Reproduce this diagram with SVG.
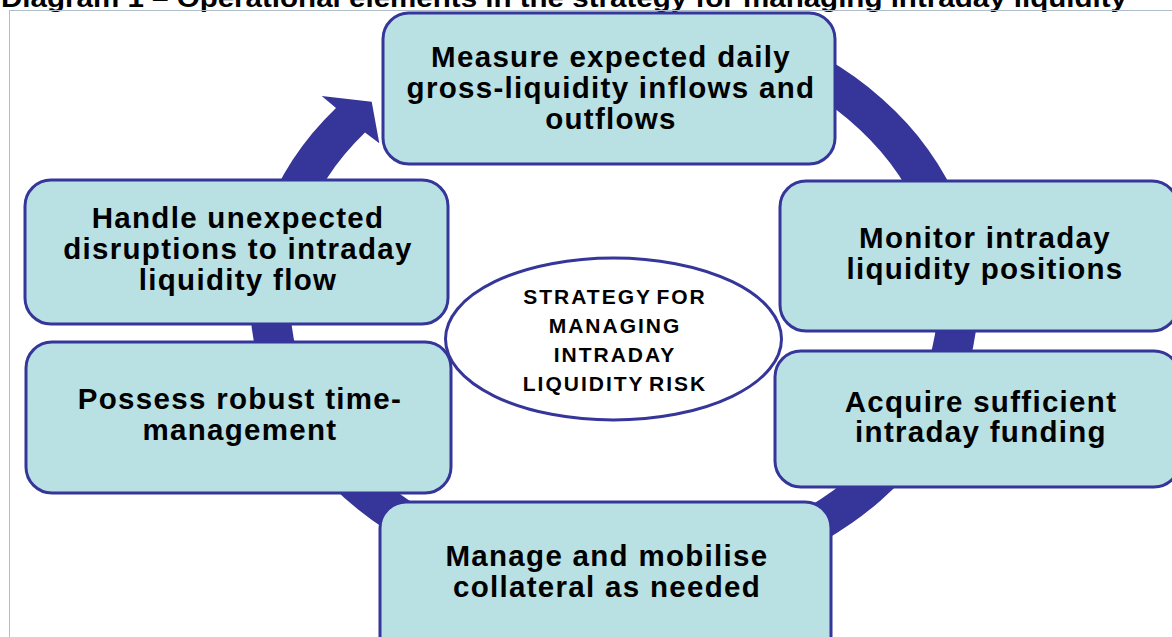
<svg xmlns="http://www.w3.org/2000/svg" width="1172" height="637" viewBox="0 0 1172 637">
  <style>
    .box { fill: #b9e0e3; stroke: #35359a; stroke-width: 3; }
    .lbl { font-family: "Liberation Sans", Arial, sans-serif; font-weight: bold; font-size: 29.5px; letter-spacing: 1.3px; fill: #000; text-anchor: middle; }
    .ctr { font-family: "Liberation Sans", Arial, sans-serif; font-weight: bold; font-size: 21px; letter-spacing: 2px; word-spacing: -3px; fill: #000; text-anchor: middle; }
    .title { font-family: "Liberation Sans", Arial, sans-serif; font-weight: bold; font-size: 25px; fill: #000; }
  </style>
  <rect width="1172" height="637" fill="#ffffff"/>
  <text class="title" x="1" y="6.5" textLength="1126" lengthAdjust="spacingAndGlyphs">Diagram 1 – Operational elements in the strategy for managing intraday liquidity</text>
  <rect x="9.5" y="10.5" width="1180" height="640" fill="none" stroke="#aebfcb" stroke-width="1"/>

  <g id="connectors">
    <path d="M 720 15.8 A 364 296 0 1 1 336 107.9 L 321.7 96 L 371.7 101.7 L 379.3 143.3 L 365 132.6 A 324 260 0 1 0 720 53.3 Z" fill="#35359a"/>
  </g>

  <g id="node-measure">
    <rect class="box" x="383" y="13" width="452" height="151" rx="26" ry="26"/>
    <text class="lbl" x="611" y="67">Measure expected daily</text>
    <text class="lbl" x="611" y="98">gross-liquidity inflows and</text>
    <text class="lbl" x="611" y="129">outflows</text>
  </g>

  <g id="node-monitor">
    <rect class="box" x="780" y="181" width="398" height="150" rx="26" ry="26"/>
    <text class="lbl" x="985" y="248">Monitor intraday</text>
    <text class="lbl" x="985" y="279">liquidity positions</text>
  </g>

  <g id="node-acquire">
    <rect class="box" x="775" y="351" width="405" height="136" rx="26" ry="26"/>
    <text class="lbl" x="981" y="412">Acquire sufficient</text>
    <text class="lbl" x="981" y="442">intraday funding</text>
  </g>

  <g id="node-manage">
    <rect class="box" x="380" y="502" width="451" height="160" rx="26" ry="26"/>
    <text class="lbl" x="607" y="566">Manage and mobilise</text>
    <text class="lbl" x="607" y="597">collateral as needed</text>
  </g>

  <g id="node-possess">
    <rect class="box" x="26" y="342" width="425" height="151" rx="26" ry="26"/>
    <text class="lbl" x="240" y="409">Possess robust time-</text>
    <text class="lbl" x="240" y="440">management</text>
  </g>

  <g id="node-handle">
    <rect class="box" x="25" y="180" width="423" height="144" rx="26" ry="26"/>
    <text class="lbl" x="238" y="228">Handle unexpected</text>
    <text class="lbl" x="238" y="259">disruptions to intraday</text>
    <text class="lbl" x="238" y="290">liquidity flow</text>
  </g>

  <g id="node-strategy">
    <ellipse cx="613.5" cy="339" rx="168" ry="81" fill="#ffffff" stroke="#35359a" stroke-width="3"/>
    <text class="ctr" x="615" y="304">STRATEGY FOR</text>
    <text class="ctr" x="615" y="333">MANAGING</text>
    <text class="ctr" x="615" y="362">INTRADAY</text>
    <text class="ctr" x="615" y="391">LIQUIDITY RISK</text>
  </g>
</svg>
